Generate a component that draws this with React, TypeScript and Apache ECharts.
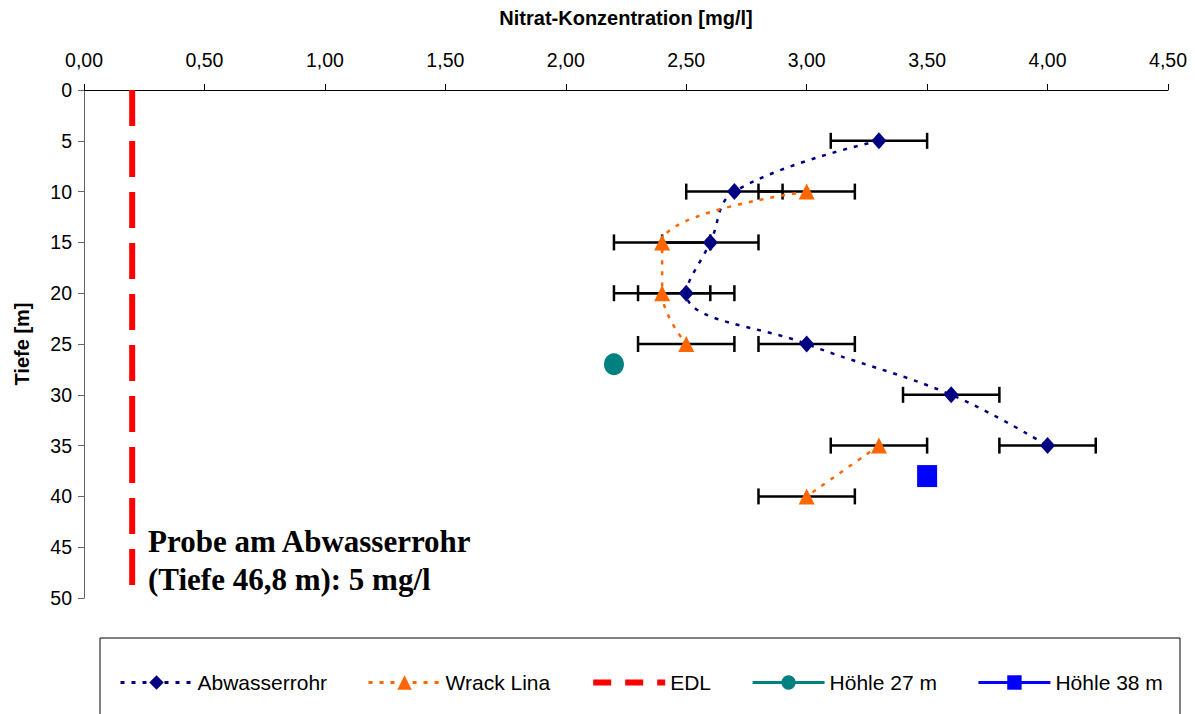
import React, { useEffect, useRef } from "react";
import * as echarts from "echarts";

const xTicks = [0, 0.5, 1, 1.5, 2, 2.5, 3, 3.5, 4, 4.5];
const abwDepth = [5, 10, 15, 20, 25, 30, 35];
const abwConc = [3.3, 2.7, 2.6, 2.5, 3.0, 3.6, 4.0];
const abwErr = [0.2, 0.2, 0.2, 0.2, 0.2, 0.2, 0.2];
const wrackDepth = [10, 15, 20, 25, 30, 35, 40];
const wrackConc: (number | null)[] = [3.0, 2.4, 2.4, 2.5, null, 3.3, 3.0];
const wrackErr = [0.2, 0.2, 0.2, 0.2, 0, 0.2, 0.2];
const edlConc = [0.2, 0.2];
const edlDepth = [0, 50];
const hoehle27 = [[2.2, 27]];
const hoehle38 = [[3.5, 38]];

const FONT = "Liberation Sans, Arial, sans-serif";

export default function App() {
  const ref = useRef<HTMLDivElement>(null);
  useEffect(() => {
    if (!ref.current) return;
    const chart = echarts.init(ref.current, undefined, { renderer: "svg" });
    const abwData = abwConc.map((c, i) => [c, abwDepth[i]]);
    const wrackData = wrackConc.map((c, i) => (c === null ? ["-", wrackDepth[i]] : [c, wrackDepth[i]]));
    const abwErrData = abwConc.map((c, i) => [c, abwDepth[i], abwErr[i]]);
    const wrackErrData = wrackConc
      .map((c, i) => (c === null ? null : [c, wrackDepth[i], wrackErr[i]]))
      .filter((d) => d !== null);
    const edlData = edlConc.map((c, i) => [c, edlDepth[i]]);

    const renderErr = (params: any, api: any) => {
      const x = api.value(0);
      const y = api.value(1);
      const e = api.value(2);
      const p1 = api.coord([x - e, y]);
      const p2 = api.coord([x + e, y]);
      const cap = 8;
      const style = { stroke: "#000", lineWidth: 2.5 };
      return {
        type: "group",
        children: [
          { type: "line", shape: { x1: p1[0], y1: p1[1], x2: p2[0], y2: p2[1] }, style },
          { type: "line", shape: { x1: p1[0], y1: p1[1] - cap, x2: p1[0], y2: p1[1] + cap }, style },
          { type: "line", shape: { x1: p2[0], y1: p2[1] - cap, x2: p2[0], y2: p2[1] + cap }, style },
        ],
      };
    };

    chart.setOption({
      animation: false,
      backgroundColor: "#fff",
      grid: { left: 84, right: 27, top: 90, bottom: 116 },
      xAxis: {
        type: "value",
        position: "top",
        min: 0,
        max: 4.5,
        interval: 0.5,
        name: "Nitrat-Konzentration [mg/l]",
        nameLocation: "middle",
        nameGap: 62,
        nameTextStyle: { fontFamily: FONT, fontSize: 20, fontWeight: "bold", color: "#000" },
        axisLine: { show: true, lineStyle: { color: "#000", width: 1 } },
        axisTick: { show: true, length: 6, lineStyle: { color: "#000" } },
        axisLabel: {
          fontFamily: FONT,
          fontSize: 19.5,
          color: "#000",
          margin: 20,
          formatter: (v: number) => v.toFixed(2).replace(".", ","),
        },
        splitLine: { show: false },
      },
      yAxis: {
        type: "value",
        inverse: true,
        min: 0,
        max: 50,
        interval: 5,
        name: "Tiefe [m]",
        nameLocation: "middle",
        nameRotate: 90,
        nameGap: 52,
        nameTextStyle: { fontFamily: FONT, fontSize: 20, fontWeight: "bold", color: "#000" },
        axisLine: { show: true, lineStyle: { color: "#666", width: 1 } },
        axisTick: { show: true, length: 6, lineStyle: { color: "#666" } },
        axisLabel: { fontFamily: FONT, fontSize: 19.5, color: "#000", margin: 12 },
        splitLine: { show: false },
      },
      legend: {
        data: [
          { name: "Abwasserrohr", lineStyle: { width: 3 } },
          { name: "Wrack Lina", lineStyle: { width: 3 } },
          { name: "EDL", itemStyle: { opacity: 0 }, lineStyle: { width: 6, type: [18, 14] } },
          { name: "Höhle 27 m", lineStyle: { width: 3 } },
          { name: "Höhle 38 m", lineStyle: { width: 3 } },
        ],
        left: 114,
        top: 667,
        itemWidth: 72,
        itemHeight: 18,
        itemGap: 40,
        textStyle: { fontFamily: FONT, fontSize: 21, color: "#000" },
      },
      graphic: [
        {
          type: "rect",
          shape: { x: 100, y: 638, width: 1080, height: 100 },
          style: { fill: "none", stroke: "#000", lineWidth: 1 },
          z: 0,
        },
        {
          type: "text",
          left: 148,
          top: 522,
          style: {
            text: "Probe am Abwasserrohr\n(Tiefe 46,8 m): 5 mg/l",
            font: "bold 31px 'Liberation Serif', 'Times New Roman', serif",
            fill: "#000",
            lineHeight: 38,
          },
        },
      ],
      series: [
        {
          name: "abwErr",
          type: "custom",
          renderItem: renderErr,
          data: abwErrData,
          z: 1,
          silent: true,
        },
        {
          name: "wrackErr",
          type: "custom",
          renderItem: renderErr,
          data: wrackErrData,
          z: 1,
          silent: true,
        },
        {
          name: "EDL",
          type: "line",
          data: edlData,
          symbol: "none",
          lineStyle: { color: "#FF0000", width: 6, type: [36, 15] },
          itemStyle: { color: "#FF0000" },
          z: 2,
        },
        {
          name: "Abwasserrohr",
          type: "line",
          data: abwData,
          smooth: 0.4,
          symbol: "diamond",
          symbolSize: [15, 17],
          lineStyle: { color: "#000080", width: 2.5, type: [4, 7] },
          itemStyle: { color: "#000080" },
          z: 3,
        },
        {
          name: "Wrack Lina",
          type: "line",
          data: wrackData,
          connectNulls: false,
          smooth: 0.4,
          symbol: "triangle",
          symbolSize: [16, 16],
          lineStyle: { color: "#FF6600", width: 2.5, type: [4, 7] },
          itemStyle: { color: "#FF6600" },
          z: 3,
        },
        {
          name: "Höhle 27 m",
          type: "line",
          data: hoehle27,
          symbol: "circle",
          symbolSize: [20, 22],
          lineStyle: { color: "#008080", width: 2.5 },
          itemStyle: { color: "#008080" },
          z: 3,
        },
        {
          name: "Höhle 38 m",
          type: "line",
          data: hoehle38,
          symbol: "rect",
          symbolSize: [20, 22],
          lineStyle: { color: "#0000FF", width: 2.5 },
          itemStyle: { color: "#0000FF" },
          z: 3,
        },
      ],
    });
    return () => chart.dispose();
  }, []);
  return <div ref={ref} style={{ width: 1195, height: 714, position: "absolute", left: 0, top: 0 }} />;
}
